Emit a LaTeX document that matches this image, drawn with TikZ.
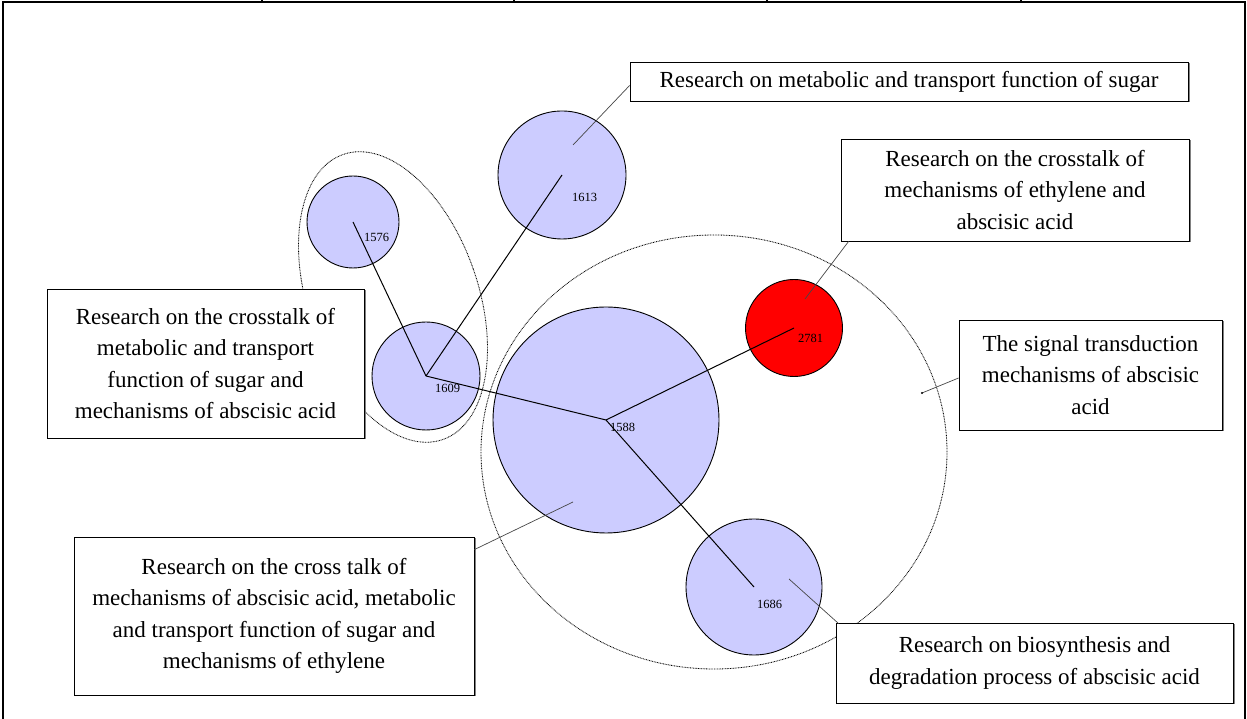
\documentclass[tikz,border=0pt]{standalone}
\usepackage{fontspec}
\setmainfont{Liberation Serif}
\usetikzlibrary{shadows}
\definecolor{bubblefill}{RGB}{204,204,255}
\definecolor{calloutgray}{RGB}{70,70,70}
\begin{document}
\begin{tikzpicture}[x=1pt,y=1pt,
  bubble/.style={circle, draw=black, line width=0.9pt, fill=bubblefill, inner sep=0pt, minimum size=#1},
  hotbubble/.style={bubble=#1, fill=red},
  hubline/.style={draw=black, line width=1pt},
  numlabel/.style={anchor=west, inner sep=0pt, font=\fontsize{12.5}{14}\selectfont},
  groupline/.style={draw=black, line width=0.85pt, dash pattern=on 0.8pt off 0.8pt},
  callout/.style={draw=calloutgray, line width=0.7pt},
  textbox/.style={rectangle, draw=black, line width=0.8pt, fill=white, align=center,
    inner sep=0pt, font=\fontsize{23}{31.5}\selectfont,
    drop shadow={shadow xshift=1.5pt, shadow yshift=-1.5pt, fill=black!55, opacity=0.9}}]

\useasboundingbox (0,0) rectangle (1247,719);

% page frame with column ticks
\draw[line width=2pt] (2.5,0) -- (2.5,717) -- (1245,717) -- (1245,0);
\foreach \tx in {262,514,767,1021}
  \draw[line width=1.5pt] (\tx,717) -- (\tx,719);

% cluster outlines
\draw[groupline] (714,267) ellipse [x radius=233, y radius=217];
\draw[groupline, rotate around={19.3:(393,422)}] (393,422) ellipse [x radius=85, y radius=151];

% cluster bubbles
\node[bubble=92pt]  (c1576) at (353,497) {};
\node[bubble=108pt] (c1609) at (426,343) {};
\node[bubble=128pt] (c1613) at (562,544) {};
\node[bubble=226pt] (c1588) at (606,299) {};
\node[hotbubble=97pt] (c2781) at (794,391) {};
\node[bubble=136pt] (c1686) at (754,132) {};

% links between clusters
\draw[hubline] (c1609.center) -- (c1576.center);
\draw[hubline] (c1609.center) -- (c1613.center);
\draw[hubline] (c1609.center) -- (c1588.center);
\draw[hubline] (c1588.center) -- (c2781.center);
\draw[hubline] (c1588.center) -- (c1686.center);

% cluster sizes
\node[numlabel] (n1576) at (364,482) {1576};
\node[numlabel] (n1609) at (435,331) {1609};
\node[numlabel] (n1613) at (572,522) {1613};
\node[numlabel] (n1588) at (610,292) {1588};
\node[numlabel] (n2781) at (798,381) {2781};
\node[numlabel] (n1686) at (757,115) {1686};

% callout targets
\coordinate (p1613) at (573,574);
\coordinate (p2781) at (805,420);
\coordinate (psignal) at (922,326);
\coordinate (p1588) at (573,217);
\coordinate (p1686) at (789,140);

% description boxes
\node[textbox, minimum width=558pt, minimum height=39pt] (box1) at (909,637.5)
  {Research on metabolic and transport function of sugar};
\node[textbox, minimum width=348pt, minimum height=102pt] (box2) at (1015,529)
  {Research on the crosstalk of\\mechanisms of ethylene and\\abscisic acid};
\node[textbox, minimum width=263pt, minimum height=110pt] (box3) at (1090.5,344)
  {The signal transduction\\mechanisms of abscisic\\acid};
\node[textbox, minimum width=317pt, minimum height=149pt] (box4) at (205.5,355.5)
  {Research on the crosstalk of\\metabolic and transport\\function of sugar and\\mechanisms of abscisic acid};
\node[textbox, minimum width=400pt, minimum height=158pt] (box5) at (274,103)
  {Research on the cross talk of\\mechanisms of abscisic acid, metabolic\\and transport function of sugar and\\mechanisms of ethylene};
\node[textbox, minimum width=397pt, minimum height=80pt] (box6) at (1034.5,56)
  {Research on biosynthesis and\\degradation process of abscisic acid};

% callout lines
\draw[callout] ([yshift=-4pt]box1.west) -- (p1613);
\draw[callout] ([xshift=8pt]box2.south west) -- (p2781);
\draw[callout] ([yshift=-3pt]box3.west) -- (psignal);
\fill[black] (psignal) circle (1.1pt);
\draw[callout] ([yshift=-13pt]box5.north east) -- (p1588);
\draw[callout] ([xshift=3pt,yshift=-1pt]box6.north west) -- (p1686);

\end{tikzpicture}
\end{document}
